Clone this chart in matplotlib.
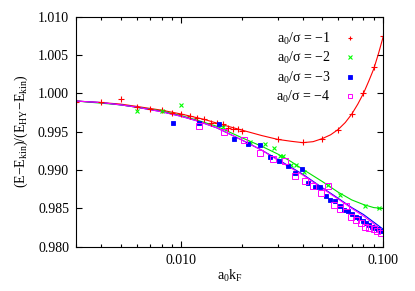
import numpy as np
import matplotlib
matplotlib.use("Agg")
from matplotlib import pyplot as plt
from matplotlib.ticker import FixedLocator, FixedFormatter, LogLocator, NullFormatter

plt.rcParams['font.family'] = ['Liberation Serif', 'DejaVu Serif']
plt.rcParams['mathtext.fontset'] = 'custom'
plt.rcParams['mathtext.rm'] = 'Liberation Serif'
plt.rcParams['mathtext.it'] = 'Liberation Serif:italic'
plt.rcParams['font.size'] = 10

# measured points, a0/sigma = -1
red_x = [0.003, 0.004, 0.005, 0.006, 0.007, 0.008, 0.009, 0.010, 0.011, 0.012, 0.013,
         0.014, 0.015, 0.016, 0.017, 0.018, 0.019, 0.020, 0.030, 0.040, 0.050, 0.060,
         0.070, 0.080, 0.090, 0.100]
red_y = [0.9989, 0.9989, 0.9993, 0.9982, 0.9979, 0.9978, 0.9975, 0.9973, 0.9970, 0.9968,
         0.9966, 0.9962, 0.9961, 0.9960, 0.9955, 0.9954, 0.9953, 0.9951, 0.9940, 0.9936,
         0.9941, 0.9952, 0.9973, 1.0001, 1.0034, 1.0075]

# a0/sigma = -2
green_x = [0.006, 0.008, 0.010, 0.016, 0.022, 0.026, 0.0287, 0.0309, 0.0318, 0.035,
           0.0372, 0.0406, 0.0536, 0.0613, 0.081, 0.095]
green_y = [0.9977, 0.9977, 0.9985, 0.9956, 0.9937, 0.9934, 0.9929, 0.9918, 0.9918, 0.9907,
           0.9906, 0.9897, 0.9881, 0.9868, 0.9853, 0.9850]

# a0/sigma = -3
blue_x = [0.0091, 0.0122, 0.0153, 0.0183, 0.0214, 0.0245, 0.0275, 0.0306, 0.0336, 0.0366,
          0.0397, 0.0427, 0.0458, 0.0488, 0.0519, 0.0549, 0.0580, 0.0610, 0.0641, 0.0671,
          0.0702, 0.0732, 0.0763, 0.0793, 0.0824, 0.0854, 0.0885, 0.0915, 0.0946, 0.0976]
blue_y = [0.9962, 0.9962, 0.9960, 0.9940, 0.9934, 0.9933, 0.9917, 0.9912, 0.9905, 0.9896,
          0.9902, 0.9883, 0.9878, 0.9878, 0.9866, 0.9861, 0.9860, 0.9853, 0.9848, 0.9847,
          0.9843, 0.9839, 0.9837, 0.9833, 0.9831, 0.9828, 0.9826, 0.9824, 0.9823, 0.9821]

# a0/sigma = -4
mag_x = [0.0122, 0.0163, 0.0204, 0.0245, 0.0286, 0.0327, 0.0367, 0.0408, 0.0449, 0.0490,
         0.0531, 0.0571, 0.0612, 0.0653, 0.0694, 0.0735, 0.0776, 0.0816, 0.0857, 0.0898,
         0.0939, 0.0980]
mag_y = [0.9957, 0.9950, 0.9939, 0.9922, 0.9915, 0.9912, 0.9892, 0.9886, 0.9879, 0.9870,
         0.9879, 0.9854, 0.9849, 0.9853, 0.9839, 0.9835, 0.9831, 0.9826, 0.9825, 0.9823,
         0.9821, 0.9818]

# fitted curves
red_fit_x = [0.003, 0.004, 0.005, 0.006, 0.008, 0.010, 0.013, 0.016, 0.020, 0.025, 0.030,
             0.035, 0.040, 0.045, 0.050, 0.055, 0.060, 0.065, 0.070, 0.075, 0.080, 0.085,
             0.090, 0.095, 0.100]
red_fit_y = [0.9990, 0.9988, 0.9986, 0.9983, 0.9978, 0.9973, 0.9966, 0.9959, 0.9952, 0.9945,
             0.9940, 0.99375, 0.99357, 0.9937, 0.9941, 0.9946, 0.9953, 0.9962, 0.9973, 0.9986,
             1.0000, 1.0016, 1.0032, 1.0052, 1.0073]

green_fit_x = [0.003, 0.005, 0.008, 0.010, 0.012, 0.015, 0.020, 0.025, 0.030, 0.035, 0.040,
               0.050, 0.060, 0.070, 0.080, 0.090, 0.100]
green_fit_y = [0.9990, 0.9985, 0.9977, 0.9971, 0.9965, 0.9957, 0.9942, 0.9931, 0.9921, 0.9911,
               0.9901, 0.9885, 0.9871, 0.9861, 0.9855, 0.9851, 0.9850]

blue_fit_x = [0.003, 0.004, 0.005, 0.006, 0.008, 0.010, 0.012, 0.015, 0.020, 0.025, 0.030,
              0.040, 0.050, 0.060, 0.070, 0.080, 0.090, 0.100]
blue_fit_y = [0.9990, 0.9988, 0.9985, 0.9982, 0.9976, 0.9970, 0.9964, 0.9955, 0.9939, 0.9926,
              0.9914, 0.98945, 0.9877, 0.9863, 0.9851, 0.9842, 0.9832, 0.9823]

mag_fit_x = [0.003, 0.004, 0.005, 0.006, 0.008, 0.010, 0.012, 0.015, 0.020, 0.025, 0.030,
             0.040, 0.050, 0.060, 0.070, 0.080, 0.090, 0.100]
mag_fit_y = [0.9990, 0.9988, 0.9985, 0.9982, 0.9976, 0.9970, 0.9964, 0.9955, 0.9939, 0.9926,
             0.9913, 0.98935, 0.9876, 0.9862, 0.9850, 0.9840, 0.9830, 0.9820]

labels = ["a$_0$/σ = −1", "a$_0$/σ = −2", "a$_0$/σ = −3", "a$_0$/σ = −4"]

fig = plt.figure(figsize=(4.15, 2.91), dpi=100)
ax = fig.add_axes([76/415, 1 - 246.7/291, (383 - 76)/415, (246.7 - 16.7)/291])

lw = 0.8
ax.plot(red_fit_x, red_fit_y, color='#ff0000', lw=lw)
ax.plot(green_fit_x, green_fit_y, color='#00e000', lw=lw)
ax.plot(blue_fit_x, blue_fit_y, color='#0000ff', lw=lw)
ax.plot(mag_fit_x, mag_fit_y, color='#ff00ff', lw=lw)

ax.plot(red_x, red_y, ls='none', marker='+', ms=4, mew=0.8, color='#ff0000', label=labels[0])
ax.plot(green_x, green_y, ls='none', marker='x', ms=3.5, mew=0.8, color='#00ff00', label=labels[1])
ax.plot(blue_x, blue_y, ls='none', marker='s', ms=3, mew=0.6, color='#0000ff', label=labels[2])
ax.plot(mag_x, mag_y, ls='none', marker='s', ms=4, mew=0.7, color='#ff00ff', mfc='none',
        mec='#ff00ff', label=labels[3])

ax.set_xscale('log')
ax.set_xlim(0.003, 0.1)
ax.set_ylim(0.980, 1.010)

ax.xaxis.set_major_locator(FixedLocator([0.01, 0.1]))
ax.xaxis.set_major_formatter(FixedFormatter(["0.010", "0.100"]))
ax.xaxis.set_minor_locator(LogLocator(base=10, subs=np.arange(2, 10)))
ax.xaxis.set_minor_formatter(NullFormatter())
ax.set_yticks(np.arange(0.980, 1.0101, 0.005))
ax.set_yticklabels(["%.3f" % v for v in np.arange(0.980, 1.0101, 0.005)])

ax.tick_params(which='both', direction='in', top=True, right=True, width=0.8)
ax.tick_params(which='major', length=4.5, pad=5)
ax.tick_params(which='minor', length=2.5)
for s in ax.spines.values():
    s.set_linewidth(0.8)

ax.set_xlabel(r"a$_0$k$_\mathrm{F}$", labelpad=1)
ax.set_ylabel(r"(E−E$_\mathrm{kin}$)/(E$_\mathrm{HY}$−E$_\mathrm{kin}$)", labelpad=6)

ax.legend(loc='upper right', frameon=False, markerfirst=False, handlelength=1.0,
          handletextpad=0.9, labelspacing=0.25, borderaxespad=0.6, fontsize=10,
          markerscale=0.8, bbox_to_anchor=(0.96, 1.0))

fig.savefig("out.png", dpi=100)
